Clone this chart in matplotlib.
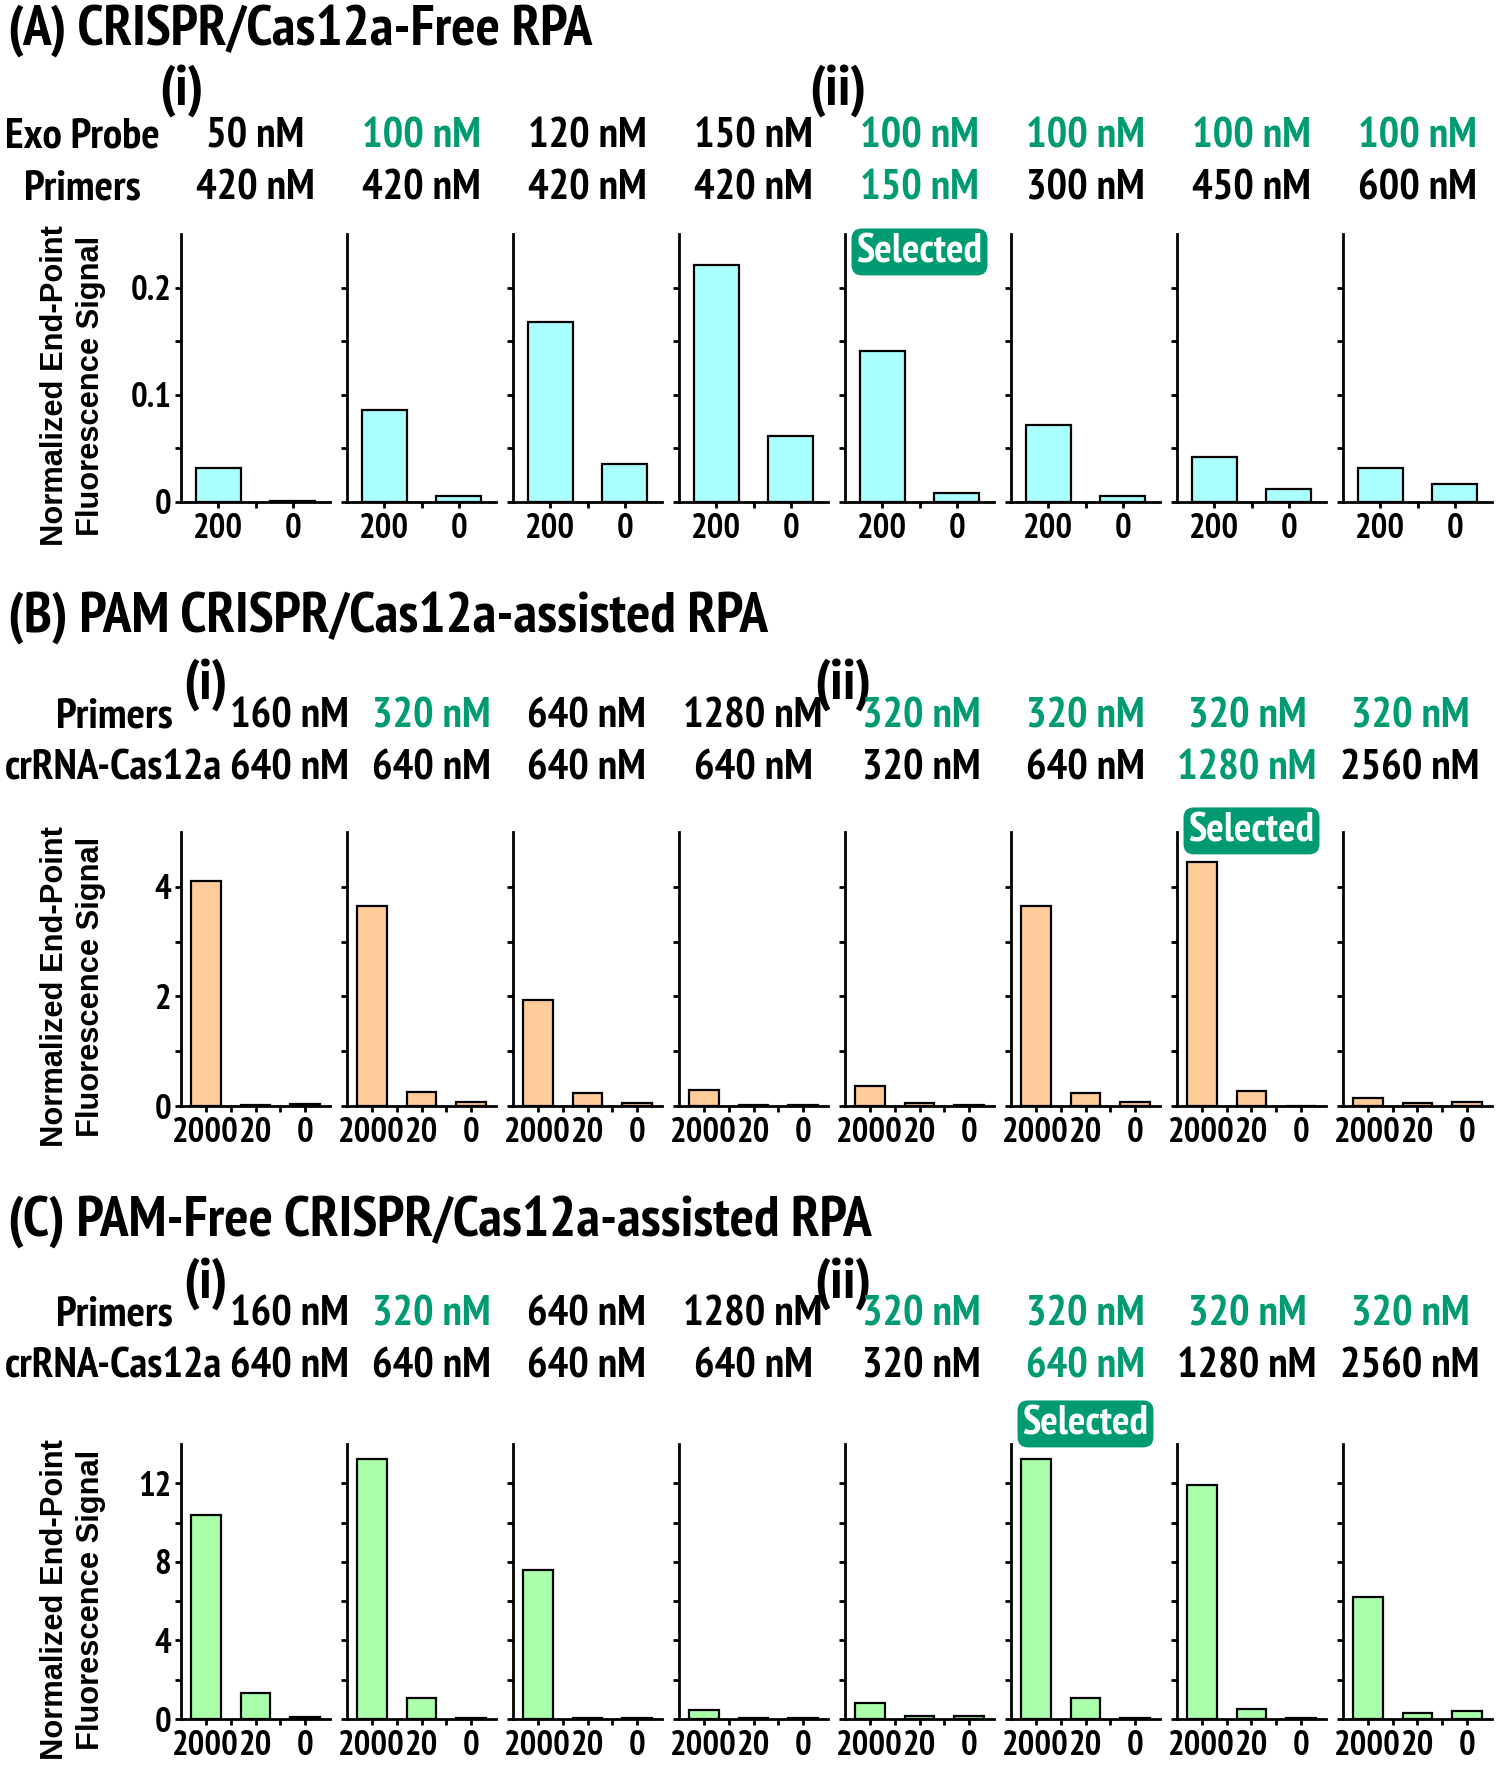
import matplotlib
matplotlib.use("Agg")
import matplotlib.pyplot as plt
from matplotlib.ticker import FixedLocator, FixedFormatter

W, H = 1500, 1767
GREEN = "#009B72"
NARROW = ["PT Sans Narrow", "Roboto Condensed", "DejaVu Sans"]
WIDE = ["Liberation Sans", "DejaVu Sans"]

plt.rcParams.update({
    "font.family": NARROW, "font.weight": "bold",
    "axes.linewidth": 2.0, "xtick.major.width": 2.0, "ytick.major.width": 2.0,
    "xtick.minor.width": 2.0, "ytick.minor.width": 2.0,
})

# ─── DATA ────────────────────────────────────────────────
a_xlabels = ["200", "0"]
a_probe = ["50 nM", "100 nM", "120 nM", "150 nM", "100 nM", "100 nM", "100 nM", "100 nM"]
a_primers = ["420 nM", "420 nM", "420 nM", "420 nM", "150 nM", "300 nM", "450 nM", "600 nM"]
a_probe_green = [0, 1, 0, 0, 1, 1, 1, 1]
a_primers_green = [0, 0, 0, 0, 1, 0, 0, 0]
a_values = [[0.032, 0.001], [0.086, 0.006], [0.168, 0.035], [0.221, 0.062],
            [0.141, 0.008], [0.072, 0.006], [0.042, 0.012], [0.032, 0.017]]

b_xlabels = ["2000", "20", "0"]
b_primers = ["160 nM", "320 nM", "640 nM", "1280 nM", "320 nM", "320 nM", "320 nM", "320 nM"]
b_crrna = ["640 nM", "640 nM", "640 nM", "640 nM", "320 nM", "640 nM", "1280 nM", "2560 nM"]
b_primers_green = [0, 1, 0, 0, 1, 1, 1, 1]
b_crrna_green = [0, 0, 0, 0, 0, 0, 1, 0]
b_values = [[4.10, 0.02, 0.03], [3.65, 0.25, 0.07], [1.94, 0.23, 0.05], [0.29, 0.02, 0.02],
            [0.37, 0.05, 0.02], [3.65, 0.24, 0.07], [4.45, 0.27, 0.005], [0.15, 0.06, 0.07]]

c_xlabels = ["2000", "20", "0"]
c_primers = ["160 nM", "320 nM", "640 nM", "1280 nM", "320 nM", "320 nM", "320 nM", "320 nM"]
c_crrna = ["640 nM", "640 nM", "640 nM", "640 nM", "320 nM", "640 nM", "1280 nM", "2560 nM"]
c_primers_green = [0, 1, 0, 0, 1, 1, 1, 1]
c_crrna_green = [0, 0, 0, 0, 0, 1, 0, 0]
c_values = [[10.4, 1.31, 0.09], [13.26, 1.07, 0.05], [7.6, 0.03, 0.03], [0.47, 0.07, 0.07],
            [0.79, 0.15, 0.13], [13.26, 1.07, 0.05], [11.9, 0.52, 0.07], [6.19, 0.32, 0.39]]


def fx(px):
    return px / W


def fy(py):
    return 1 - py / H


fig = plt.figure(figsize=(W / 100, H / 100), dpi=100)
renderer = fig.canvas.get_renderer()


def fit_size(s, target_px, family=NARROW):
    t = fig.text(0, 0, s, fontsize=30, family=family, weight="bold")
    w = t.get_window_extent(renderer).width
    t.remove()
    return 30 * target_px / w


# sizes matched to widths measured on the reference
TITLE_FS = fit_size("(A) CRISPR/Cas12a-Free RPA", 585)
LABEL_FS = fit_size("Exo Probe", 154)
TICK_FS = fit_size("2000", 67)
BADGE_FS = fit_size("Selected", 126)
YLAB_FS = fit_size("Normalized End-Point", 321, WIDE)

AX_LEFT, AX_STEP, AX_W = 181, 166, 149
COLS_A = [AX_LEFT + AX_W / 2 + i * AX_STEP for i in range(8)]
COLS_BC = [289, 431, 586, 753, 921, 1085, 1247, 1410]


def draw_row(title, title_base, sub_base, sub_x, names, name_x, name_base,
             col_texts, col_green, col_x, top, bottom, values, xlabels, color,
             ymax, major, minor, sel, sel_y):
    fig.text(fx(8), fy(title_base), title, fontsize=TITLE_FS, va="baseline", ha="left")
    fig.text(fx(sub_x[0]), fy(sub_base), "(i)", fontsize=TITLE_FS, va="baseline", ha="center")
    fig.text(fx(sub_x[1]), fy(sub_base), "(ii)", fontsize=TITLE_FS, va="baseline", ha="center")
    for r in range(2):
        fig.text(fx(name_x), fy(name_base[r]), names[r], fontsize=LABEL_FS,
                 va="baseline", ha="center")
        for i, t in enumerate(col_texts[r]):
            fig.text(fx(col_x[i]), fy(name_base[r]), t, fontsize=LABEL_FS, va="baseline",
                     ha="center", color=GREEN if col_green[r][i] else "black")

    n = len(xlabels)
    for i, vals in enumerate(values):
        ax = fig.add_axes([fx(AX_LEFT + i * AX_STEP), fy(bottom), AX_W / W, (bottom - top) / H])
        ax.bar(range(n), vals, width=0.6, color=color, edgecolor="black", linewidth=1.6)
        ax.set_xlim(-0.5, n - 0.5)
        ax.set_ylim(0, ymax)
        ax.spines[["top", "right"]].set_visible(False)
        ax.set_xticks(range(n))
        ax.set_xticklabels(xlabels, fontsize=TICK_FS)
        ax.xaxis.set_minor_locator(FixedLocator([k + 0.5 for k in range(n - 1)]))
        ax.yaxis.set_major_locator(FixedLocator(major))
        ax.yaxis.set_minor_locator(FixedLocator(minor))
        ax.tick_params(axis="both", which="both", direction="out", length=4, pad=4)
        if i == 0:
            ax.yaxis.set_major_formatter(FixedFormatter([f"{m:g}" for m in major]))
            ax.tick_params(axis="y", labelsize=TICK_FS, pad=3)
        else:
            ax.set_yticklabels([])
        if i == sel:
            ax.text(0.5, sel_y, "Selected", transform=ax.transAxes, ha="center",
                    va="center", color="white", fontsize=BADGE_FS,
                    bbox=dict(boxstyle="round,pad=0.12,rounding_size=0.25", fc=GREEN, ec="none"))

    ymid = (top + bottom) / 2 + 18
    fig.text(fx(55), fy(ymid), "Normalized End-Point", rotation=90, family=WIDE,
             fontsize=YLAB_FS, ha="center", va="center")
    fig.text(fx(91), fy(ymid), "Fluorescence Signal", rotation=90, family=WIDE,
             fontsize=YLAB_FS, ha="center", va="center")


draw_row("(A) CRISPR/Cas12a-Free RPA", 45, 105, (182, 838),
         ["Exo Probe", "Primers"], 82, (148, 200),
         [a_probe, a_primers], [a_probe_green, a_primers_green], COLS_A,
         234, 502, a_values, a_xlabels, "#AAFFFF",
         0.25, [0, 0.1, 0.2], [0.05, 0.15], 4, 0.933)

draw_row("(B) PAM CRISPR/Cas12a-assisted RPA", 632, 699, (206, 843),
         ["Primers", "crRNA-Cas12a"], 114, (728, 779),
         [b_primers, b_crrna], [b_primers_green, b_crrna_green], COLS_BC,
         832, 1106, b_values, b_xlabels, "#FFCC99",
         5, [0, 2, 4], [1, 3], 6, 1.004)

draw_row("(C) PAM-Free CRISPR/Cas12a-assisted RPA", 1236, 1298, (206, 843),
         ["Primers", "crRNA-Cas12a"], 114, (1326, 1377),
         [c_primers, c_crrna], [c_primers_green, c_crrna_green], COLS_BC,
         1444, 1719, c_values, c_xlabels, "#AAFFAA",
         14, [0, 4, 8, 12], [2, 6, 10], 5, 1.073)

fig.savefig("out.png", dpi=100, facecolor="white")
